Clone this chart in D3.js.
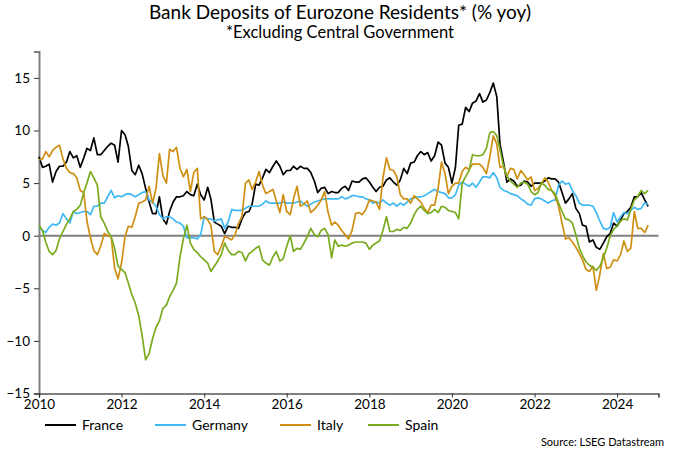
<!DOCTYPE html>
<html>
<head>
<meta charset="utf-8">
<script src="https://cdn.jsdelivr.net/npm/d3@7"></script>
<style>
  html, body { margin: 0; padding: 0; background: #fff; }
  svg { display: block; }
  text { font-family: Lato, "Open Sans", "DejaVu Sans", sans-serif; fill: #000; }
</style>
</head>
<body>
<svg id="chart" width="680" height="453"></svg>
<script>
// ---- data (monthly, Jan 2010 onward, % yoy) ----
const startYear = 2010;
const seriesNames = ["France", "Germany", "Italy", "Spain"];
const seriesColors = ["#000000", "#3fb9f4", "#cf8f12", "#7aab1f"];
const yTicks = [-15, -10, -5, 0, 5, 10, 15];
const xTickYears = [2010, 2012, 2014, 2016, 2018, 2020, 2022, 2024];

const france = [
  7.5, 6.5, 6.6, 6.8, 5.1, 6.1, 6.6, 6.6, 7.0, 8.0, 7.4, 7.6,
  6.5, 7.4, 8.3, 8.1, 9.3, 7.7, 7.7, 8.1, 8.5, 8.8, 8.6, 7.0,
  10.0, 9.6, 8.5, 6.2, 5.8, 6.7, 5.9, 4.5, 3.2, 2.1, 2.1, 3.7,
  1.6, 1.1, 2.3, 3.2, 3.7, 3.7, 3.8, 4.2, 3.9, 3.8, 4.9, 3.9,
  3.4, 4.6, 3.5, 1.3, 1.1, 0.9, 0.2, 0.9, 0.8, 0.8, 0.7, 1.6,
  2.2, 2.3, 3.0, 4.9, 4.8, 5.5, 6.3, 6.0, 6.6, 7.1, 6.6, 5.8,
  6.2, 6.2, 6.6, 6.3, 6.6, 6.4, 6.4, 6.0, 5.2, 4.1, 4.5, 4.6,
  4.0, 4.2, 4.1, 4.1, 4.5, 4.7, 4.3, 5.2, 5.1, 5.1, 5.4, 5.5,
  5.1, 4.6, 4.2, 4.6, 4.7, 5.3, 5.5, 5.1, 4.8, 5.3, 6.4, 5.9,
  6.9, 7.0, 7.6, 8.0, 7.7, 7.9, 7.1, 7.6, 8.9, 8.6, 6.9, 6.5,
  5.0, 6.5, 10.5, 10.6, 12.2, 11.8, 12.6, 12.8, 13.5, 12.7, 12.9, 13.6,
  14.5, 13.2, 8.7, 7.0, 5.1, 5.4, 5.2, 4.7, 4.8, 5.2, 5.1, 4.7,
  5.0, 5.0, 5.0, 5.2, 5.5, 5.4, 5.4, 5.1, 4.1, 3.1, 3.5, 4.0,
  2.6, 2.1, 1.0, 0.9, -0.6, -0.4, -1.1, -1.3, -0.7, -0.1, 0.2, 1.2,
  0.9, 1.5, 2.1, 2.3, 2.7, 3.7, 3.7, 4.1, 3.4, 2.8
];
const germany = [
  0.9, 0.5, 0.3, 0.8, 1.1, 1.0, 1.2, 2.1, 1.6, 1.2, 2.3, 2.1,
  2.2, 2.3, 2.3, 2.0, 2.8, 2.8, 3.1, 3.1, 3.7, 4.3, 3.6, 3.8,
  3.7, 3.9, 4.0, 3.9, 3.7, 3.9, 4.1, 4.2, 3.4, 3.2, 2.8, 2.0,
  1.6, 1.8, 1.8, 1.6, 1.3, 1.2, 0.9, -0.2, -0.2, -0.2, -0.3, 0.1,
  1.8, 1.6, 1.6, 1.4, 1.5, 1.6, 0.7, 1.3, 2.5, 2.4, 2.4, 2.4,
  2.6, 2.8, 2.8, 2.8, 2.8, 3.0, 3.3, 3.1, 3.1, 3.1, 3.1, 3.2,
  3.1, 3.1, 3.1, 3.2, 3.3, 3.0, 2.8, 3.0, 3.2, 3.3, 3.4, 3.5,
  3.5, 3.5, 3.5, 3.5, 3.7, 3.5, 3.6, 3.8, 3.8, 3.7, 3.7, 3.5,
  3.4, 3.1, 3.2, 3.1, 3.4, 3.1, 2.9, 3.1, 2.8, 3.1, 2.9, 3.2,
  3.5, 3.6, 3.7, 3.7, 3.8, 4.0, 4.2, 4.4, 4.2, 4.1, 4.0, 3.6,
  3.6, 3.9, 4.8, 5.1, 4.9, 4.7, 5.0, 4.6, 5.1, 5.6, 5.6, 5.5,
  6.0, 5.5, 4.6, 4.3, 4.2, 4.0, 3.9, 3.8, 3.5, 3.3, 3.0, 2.9,
  3.5, 3.6, 3.5, 3.3, 3.1, 3.3, 3.4, 4.8, 5.2, 4.9, 5.0, 4.3,
  3.8, 3.1, 2.9, 2.9, 2.9, 2.8, 2.2, 1.4, 0.7, 0.6, 0.8, 2.2,
  1.3, 1.8, 2.2, 2.1, 2.4, 2.7, 2.5, 2.6, 3.1, 3.0
];
const italy = [
  7.2, 7.3, 8.0, 7.5, 8.1, 8.4, 8.6, 7.3, 6.4, 6.0, 5.9, 5.5,
  4.3, 4.1, 1.4, -0.2, -1.4, -1.8, -1.0, 0.2, 0.0, -0.1, -3.1, -4.1,
  -2.6, -0.1, 0.9, 0.8, 1.8, 3.1, 3.2, 3.4, 4.7, 3.1, 4.5, 7.8,
  5.7, 5.0, 8.2, 8.0, 8.4, 6.4, 5.6, 6.3, 4.2, 6.0, 6.4, 1.6,
  1.8, 1.5, 1.0, -1.5, -1.8, -1.0, -0.1, -0.2, -0.4, 0.1, 1.2, 1.8,
  5.0, 5.3, 4.4, 5.1, 6.1, 4.8, 4.0, 4.2, 4.4, 3.3, 2.2, 3.9,
  2.3, 2.0, 3.5, 4.7, 2.8, 3.0, 3.3, 2.2, 2.5, 2.9, 3.4, 4.2,
  2.2, 1.0, 1.3, 1.0, 0.5, 0.1, -0.3, 0.5, 2.1, 2.2, 2.0, 2.5,
  3.4, 3.3, 3.2, 2.5, 5.5, 7.4, 6.3, 6.2, 5.6, 3.9, 3.5, 3.5,
  3.1, 3.8, 3.5, 3.2, 2.6, 2.2, 2.9, 2.9, 4.5, 7.0, 5.9, 4.0,
  4.7, 5.0, 5.0, 6.1, 6.5, 6.3, 6.8, 6.8, 6.8, 6.5, 5.9, 7.5,
  9.5, 8.7, 6.5, 6.6, 5.6, 6.4, 6.3, 5.4, 6.2, 5.8, 5.3, 5.6,
  4.3, 4.5, 4.9, 5.5, 5.1, 4.3, 3.8, 2.8, 1.2, -0.3, -0.2, -0.6,
  -1.1, -1.7, -2.3, -3.2, -3.4, -2.9, -5.2, -3.7, -1.7, -3.1, -3.0, -2.3,
  -2.4, -1.8, -0.5, -1.5, -1.2, 2.3, 0.7, 0.7, 0.3, 1.0
];
const spain = [
  1.0, 0.5, -0.6, -1.5, -1.8, -1.4, -0.3, 0.4, 1.1, 1.6, 2.3, 2.5,
  2.9, 4.1, 5.0, 6.1, 5.5, 4.8, 1.8, 1.2, 0.4, -0.1, -1.2, -2.9,
  -3.2, -3.5, -4.5, -5.6, -6.4, -7.6, -9.5, -11.8, -11.2, -9.8, -8.7, -8.1,
  -6.9, -6.6, -5.8, -5.2, -4.5, -2.0, -0.3, 1.0, -0.7, -1.3, -1.6, -2.0,
  -2.3, -2.6, -3.4, -2.9, -2.4, -1.8, -0.7, -1.4, -1.8, -1.8, -1.5, -1.6,
  -2.4, -1.7, -1.5, -1.2, -1.0, -2.3, -2.6, -2.8, -2.0, -1.5, -2.4, -2.2,
  -1.0, 0.0, -1.5, -1.2, -1.3, -0.7, -0.1, 0.7, 0.1, -0.1, 0.5, 0.7,
  0.1, -2.1, -0.4, -1.0, -0.9, -1.0, -0.9, -0.7, -0.6, -0.6, -0.6, -0.7,
  -1.3, -0.9, -0.7, -0.5, 0.5, 1.8, 0.4, 0.4, 0.6, 0.5, 0.8, 0.7,
  1.2, 2.0, 2.5, 2.8, 2.4, 2.1, 2.2, 2.5, 2.2, 2.8, 2.7, 2.4,
  2.3, 2.2, 1.6, 5.0, 5.6, 6.2, 7.7, 7.6, 7.6, 7.7, 8.3, 9.8,
  9.9, 9.5, 8.2, 6.6, 5.7, 5.2, 4.9, 4.6, 5.0, 5.1, 4.9, 4.2,
  3.9, 4.1, 5.0, 4.8, 4.4, 4.3, 4.0, 3.1, 2.3, 1.6, 1.5, 1.2,
  0.1, -1.2, -1.9, -2.5, -2.8, -3.0, -3.3, -2.9, -2.1, -1.2, 0.0, 0.6,
  0.9, 1.4, 1.6, 1.5, 2.5, 3.4, 3.7, 4.3, 4.0, 4.3
];

// ---- layout ----
const svg = d3.select("#chart");
const plot = { left: 39, right: 658.5, top: 51.6, bottom: 393.5 };

const x = d3.scaleTime()
  .domain([new Date(2010, 0, 1), new Date(2025, 0, 1)])
  .range([plot.left, plot.right]);
const y = d3.scaleLinear()
  .domain([-15, 17.5])
  .range([plot.bottom, plot.top]);

const dateOf = i => new Date(startYear, i, 1);

// Title
svg.append("text").attr("x", 340).attr("y", 19)
  .attr("text-anchor", "middle").style("font-size", "19px")
  .text("Bank Deposits of Eurozone Residents* (% yoy)");
svg.append("text").attr("x", 340).attr("y", 38)
  .attr("text-anchor", "middle").style("font-size", "16.5px")
  .text("*Excluding Central Government");

// Y axis
const yAxis = d3.axisLeft(y).tickValues(yTicks).tickSize(5).tickPadding(4);
const gy = svg.append("g").attr("transform", `translate(${plot.left},0)`).call(yAxis);
gy.select(".domain").attr("stroke", "#808080").attr("stroke-width", 2);
gy.selectAll(".tick line").attr("stroke", "#333").attr("stroke-width", 1);
gy.selectAll(".tick text").style("font-size", "13.5px").style("font-family", "Lato, 'Open Sans', sans-serif").attr("fill", "#000");

// X axis
const xAxis = d3.axisBottom(x)
  .tickValues(xTickYears.map(yv => new Date(yv, 0, 1)))
  .tickFormat(d3.timeFormat("%Y")).tickSize(4).tickPadding(2);
const gx = svg.append("g").attr("transform", `translate(0,${plot.bottom})`).call(xAxis);
gx.select(".domain").attr("stroke", "#000").attr("stroke-width", 1.2);
gx.selectAll(".tick line").attr("stroke", "#333");
gx.selectAll(".tick text").style("font-size", "13.5px").style("font-family", "Lato, 'Open Sans', sans-serif").attr("fill", "#000");

// Zero line
svg.append("line")
  .attr("x1", plot.left).attr("x2", plot.right)
  .attr("y1", y(0)).attr("y2", y(0))
  .attr("stroke", "#7f7f7f").attr("stroke-width", 2);

// Lines
const allSeries = [france, germany, italy, spain];
const line = d3.line().x((d, i) => x(dateOf(i))).y(d => y(d));
allSeries.forEach((s, k) => {
  svg.append("path").datum(s)
    .attr("fill", "none")
    .attr("stroke", seriesColors[k])
    .attr("stroke-width", 1.7)
    .attr("stroke-linejoin", "round")
    .attr("d", line);
});

// Legend
const legendX = [45, 155, 280, 368];
const legY = 425;
seriesNames.forEach((n, k) => {
  svg.append("line").attr("x1", legendX[k]).attr("x2", legendX[k] + 31)
    .attr("y1", legY).attr("y2", legY)
    .attr("stroke", seriesColors[k]).attr("stroke-width", 2);
  svg.append("text").attr("x", legendX[k] + 37).attr("y", legY + 4.5)
    .style("font-size", "14px").text(n);
});

// Source
svg.append("text").attr("x", 664).attr("y", 446)
  .attr("text-anchor", "end").style("font-size", "11px")
  .text("Source: LSEG Datastream");
</script>
</body>
</html>
